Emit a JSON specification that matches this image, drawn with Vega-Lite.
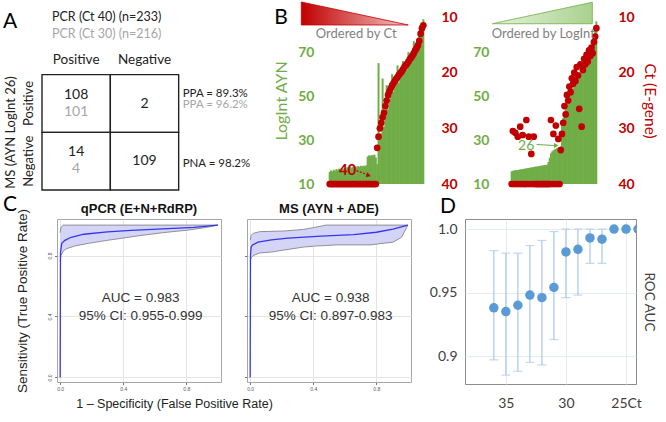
{
  "$schema": "https://vega.github.io/schema/vega-lite/v6.json",
  "background": "white",
  "padding": {"left": 2, "top": 0, "right": 4, "bottom": 2},
  "config": {"font": "Lato", "view": {"stroke": null}, "title": {"fontWeight": "normal", "color": "#000000"}},
  "datasets": {
    "cells": [{"c":"Positive","r":"Positive"},{"c":"Negative","r":"Positive"},{"c":"Positive","r":"Negative"},{"c":"Negative","r":"Negative"}],
    "counts": [{"c":"Positive","r":"Positive","n":"108","k":"top"},{"c":"Positive","r":"Positive","n":"101","k":"sub"},{"c":"Negative","r":"Positive","n":"2","k":"one"},{"c":"Positive","r":"Negative","n":"14","k":"top"},{"c":"Positive","r":"Negative","n":"4","k":"sub"},{"c":"Negative","r":"Negative","n":"109","k":"one"}],
    "stats": [{"c":"Stats","r":"Positive","t":"PPA = 89.3%","k":"top"},{"c":"Stats","r":"Positive","t":"PPA = 96.2%","k":"sub"},{"c":"Stats","r":"Negative","t":"PNA = 98.2%","k":"one"}],
    "ahead": [{"c":"Positive","r":"Header","t":"PCR (Ct 40) (n=233)","k":"h1"},{"c":"Positive","r":"Header","t":"PCR (Ct 30) (n=216)","k":"h2"},{"c":"Positive","r":"Header","t":"Positive","k":"col"},{"c":"Negative","r":"Header","t":"Negative","k":"col"},{"c":"Positive","r":"Header","t":"A","k":"letter"}],
    "b1": [
      {"r":1,"ct":40,"li":15.5},{"r":2,"ct":40,"li":16.2},{"r":3,"ct":40,"li":15.8},{"r":4,"ct":40,"li":16.5},{"r":5,"ct":40,"li":16.0},
      {"r":6,"ct":40,"li":16.8},{"r":7,"ct":40,"li":16.3},{"r":8,"ct":40,"li":17.0},{"r":9,"ct":40,"li":16.6},{"r":10,"ct":40,"li":17.2},
      {"r":11,"ct":40,"li":16.9},{"r":12,"ct":40,"li":17.4},{"r":13,"ct":40,"li":17.0},{"r":14,"ct":40,"li":17.6},{"r":15,"ct":40,"li":17.2},
      {"r":16,"ct":40,"li":17.8},{"r":17,"ct":40,"li":17.4},{"r":18,"ct":40,"li":17.9},{"r":19,"ct":40,"li":17.5},{"r":20,"ct":40,"li":18.0},
      {"r":21,"ct":40,"li":17.7},{"r":22,"ct":40,"li":18.2},{"r":23,"ct":40,"li":17.8},{"r":24,"ct":40,"li":18.3},{"r":25,"ct":40,"li":18.0},
      {"r":26,"ct":40,"li":18.4},{"r":27,"ct":40,"li":18.1},{"r":28,"ct":40,"li":18.5},{"r":29,"ct":40,"li":22.5},{"r":30,"ct":40,"li":23.0},
      {"r":31,"ct":40,"li":22.8},{"r":32,"ct":40,"li":23.2},{"r":33,"ct":40,"li":23.0},{"r":34,"ct":40,"li":23.4},{"r":35,"ct":40,"li":22.0},
      {"r":36,"ct":33.5,"li":19},{"r":37,"ct":31.5,"li":65},{"r":38,"ct":30.0,"li":30},{"r":39,"ct":29.0,"li":33},{"r":40,"ct":28.0,"li":58},
      {"r":41,"ct":27.2,"li":36},{"r":42,"ct":26.0,"li":40},{"r":43,"ct":25.0,"li":55},{"r":44,"ct":24.0,"li":44},{"r":45,"ct":23.4,"li":47},
      {"r":46,"ct":22.8,"li":50},{"r":47,"ct":22.3,"li":60},{"r":48,"ct":21.9,"li":52},{"r":49,"ct":21.5,"li":54},{"r":50,"ct":21.1,"li":55},
      {"r":51,"ct":20.8,"li":64},{"r":52,"ct":20.4,"li":56},{"r":53,"ct":20.1,"li":58},{"r":54,"ct":19.8,"li":60},{"r":55,"ct":19.4,"li":66},
      {"r":56,"ct":19.0,"li":61},{"r":57,"ct":18.7,"li":63},{"r":58,"ct":18.4,"li":62},{"r":59,"ct":18.0,"li":70},{"r":60,"ct":17.6,"li":65},
      {"r":61,"ct":17.3,"li":67},{"r":62,"ct":16.9,"li":68},{"r":63,"ct":16.5,"li":75},{"r":64,"ct":16.0,"li":70},{"r":65,"ct":15.6,"li":72},
      {"r":66,"ct":15.1,"li":74},{"r":67,"ct":14.3,"li":78},{"r":68,"ct":13.0,"li":80},{"r":69,"ct":12.0,"li":83},{"r":70,"ct":11.5,"li":85}
    ],
    "b2": [
      {"r":1,"ct":40,"li":15.8},{"r":2,"ct":30.5,"li":16.0},{"r":3,"ct":40,"li":16.1},{"r":4,"ct":30.8,"li":16.2},{"r":5,"ct":40,"li":16.3},
      {"r":6,"ct":31.5,"li":16.4},{"r":7,"ct":40,"li":16.5},{"r":8,"ct":29.7,"li":16.6},{"r":9,"ct":40,"li":16.7},{"r":10,"ct":31.2,"li":16.8},
      {"r":11,"ct":40,"li":16.9},{"r":12,"ct":40,"li":17.0},{"r":13,"ct":28.5,"li":17.1},{"r":14,"ct":40,"li":17.2},{"r":15,"ct":31.5,"li":17.3},
      {"r":16,"ct":40,"li":17.4},{"r":17,"ct":34.6,"li":17.5},{"r":18,"ct":40,"li":17.6},{"r":19,"ct":31.5,"li":17.7},{"r":20,"ct":40,"li":17.8},
      {"r":21,"ct":40,"li":17.9},{"r":22,"ct":40,"li":18.0},{"r":23,"ct":40,"li":18.1},{"r":24,"ct":40,"li":18.2},{"r":25,"ct":40,"li":18.3},
      {"r":26,"ct":40,"li":18.4},{"r":27,"ct":40,"li":18.5},{"r":28,"ct":40,"li":18.6},{"r":29,"ct":40,"li":18.7},{"r":30,"ct":40,"li":18.8},
      {"r":31,"ct":40,"li":20.0},{"r":32,"ct":40,"li":22.0},{"r":33,"ct":28.5,"li":24.0},{"r":34,"ct":40,"li":24.8},{"r":35,"ct":31.0,"li":25.3},
      {"r":36,"ct":40,"li":25.7},{"r":37,"ct":29.5,"li":26.0},{"r":38,"ct":40,"li":26.3},{"r":39,"ct":31.9,"li":26.6},{"r":40,"ct":40,"li":26.9},
      {"r":41,"ct":33.9,"li":27.2},{"r":42,"ct":31.0,"li":38},{"r":43,"ct":29.0,"li":40},{"r":44,"ct":26.0,"li":42},{"r":45,"ct":27.5,"li":44},
      {"r":46,"ct":24.0,"li":46},{"r":47,"ct":25.0,"li":47.5},{"r":48,"ct":22.5,"li":49},{"r":49,"ct":23.5,"li":50.5},{"r":50,"ct":21.0,"li":52},
      {"r":51,"ct":22.0,"li":53.5},{"r":52,"ct":20.0,"li":55},{"r":53,"ct":21.5,"li":56},{"r":54,"ct":19.0,"li":57},{"r":55,"ct":20.5,"li":58},
      {"r":56,"ct":26.5,"li":59},{"r":57,"ct":18.5,"li":60},{"r":58,"ct":29.7,"li":61},{"r":59,"ct":19.5,"li":62},{"r":60,"ct":17.5,"li":63},
      {"r":61,"ct":18.5,"li":64.5},{"r":62,"ct":16.8,"li":66},{"r":63,"ct":18.0,"li":67.5},{"r":64,"ct":16.0,"li":69},{"r":65,"ct":17.0,"li":71},
      {"r":66,"ct":15.5,"li":73},{"r":67,"ct":16.5,"li":75.5},{"r":68,"ct":14.5,"li":78},{"r":69,"ct":13.5,"li":81},{"r":70,"ct":12.0,"li":84}
    ],
    "d": [
      {"ct":36,"auc":0.938,"lo":0.897,"hi":0.983},{"ct":35,"auc":0.935,"lo":0.885,"hi":0.981},{"ct":34,"auc":0.940,"lo":0.888,"hi":0.981},
      {"ct":33,"auc":0.948,"lo":0.895,"hi":0.987},{"ct":32,"auc":0.946,"lo":0.893,"hi":0.991},{"ct":31,"auc":0.954,"lo":0.913,"hi":0.998},
      {"ct":30,"auc":0.982,"lo":0.946,"hi":1.0},{"ct":29,"auc":0.984,"lo":0.948,"hi":1.0},{"ct":28,"auc":0.993,"lo":0.973,"hi":1.0},
      {"ct":27,"auc":0.992,"lo":0.973,"hi":1.0},{"ct":26,"auc":1.0,"lo":1.0,"hi":1.0},{"ct":25,"auc":1.0,"lo":1.0,"hi":1.0},{"ct":24,"auc":1.0,"lo":1.0,"hi":1.0}
    ],
    "rocline": [
      {"m":"q","i":0,"x":0,"y":0},{"m":"q","i":1,"x":0.002,"y":0.82},{"m":"q","i":2,"x":0.01,"y":0.88},{"m":"q","i":3,"x":0.03,"y":0.90},
      {"m":"q","i":4,"x":0.07,"y":0.92},{"m":"q","i":5,"x":0.15,"y":0.94},{"m":"q","i":6,"x":0.3,"y":0.955},{"m":"q","i":7,"x":0.45,"y":0.965},
      {"m":"q","i":8,"x":0.65,"y":0.975},{"m":"q","i":9,"x":0.85,"y":0.985},{"m":"q","i":10,"x":1,"y":1},
      {"m":"ms","i":0,"x":0,"y":0},{"m":"ms","i":1,"x":0.002,"y":0.80},{"m":"ms","i":2,"x":0.006,"y":0.856},{"m":"ms","i":3,"x":0.015,"y":0.87},
      {"m":"ms","i":4,"x":0.05,"y":0.888},{"m":"ms","i":5,"x":0.135,"y":0.903},{"m":"ms","i":6,"x":0.24,"y":0.914},{"m":"ms","i":7,"x":0.45,"y":0.927},
      {"m":"ms","i":8,"x":0.656,"y":0.938},{"m":"ms","i":9,"x":0.8,"y":0.953},{"m":"ms","i":10,"x":0.906,"y":0.974},{"m":"ms","i":11,"x":1,"y":1}
    ],
    "rocband": [
      {"m":"q","x":0,"lo":0.76,"hi":0.95},{"m":"q","x":0.005,"lo":0.80,"hi":0.985},{"m":"q","x":0.02,"lo":0.83,"hi":1.0},{"m":"q","x":0.04,"lo":0.845,"hi":1.0},
      {"m":"q","x":0.1,"lo":0.865,"hi":1.0},{"m":"q","x":0.18,"lo":0.88,"hi":1.0},{"m":"q","x":0.3,"lo":0.90,"hi":1.0},{"m":"q","x":0.5,"lo":0.93,"hi":1.0},
      {"m":"q","x":0.65,"lo":0.95,"hi":1.0},{"m":"q","x":0.8,"lo":0.966,"hi":1.0},{"m":"q","x":0.93,"lo":0.985,"hi":1.0},{"m":"q","x":1,"lo":1.0,"hi":1.0},
      {"m":"ms","x":0,"lo":0.76,"hi":0.90},{"m":"ms","x":0.006,"lo":0.785,"hi":0.931},{"m":"ms","x":0.02,"lo":0.80,"hi":0.946},{"m":"ms","x":0.06,"lo":0.817,"hi":0.957},
      {"m":"ms","x":0.135,"lo":0.823,"hi":0.959},{"m":"ms","x":0.2,"lo":0.834,"hi":0.961},{"m":"ms","x":0.24,"lo":0.84,"hi":0.963},{"m":"ms","x":0.34,"lo":0.856,"hi":0.972},
      {"m":"ms","x":0.41,"lo":0.862,"hi":0.985},{"m":"ms","x":0.48,"lo":0.866,"hi":1.0},{"m":"ms","x":0.55,"lo":0.87,"hi":1.0},{"m":"ms","x":0.76,"lo":0.87,"hi":1.0},
      {"m":"ms","x":0.906,"lo":0.888,"hi":1.0},{"m":"ms","x":0.96,"lo":0.92,"hi":1.0},{"m":"ms","x":1,"lo":1.0,"hi":1.0}
    ],
    "auc": [{"m":"q","h":"qPCR (E+N+RdRP)","a":"AUC = 0.983","ci":"95% CI: 0.955-0.999"},{"m":"ms","h":"MS (AYN + ADE)","a":"AUC = 0.938","ci":"95% CI: 0.897-0.983"}]
  },
  "columns": 1,
  "align": "none",
  "spacing": 2,
  "concat": [
    {
      "hconcat": [
        {
          "width": 205, "height": 173,
          "layer": [
            {"data": {"name": "cells"}, "mark": {"type": "rect", "fill": "white", "stroke": "#222222", "strokeWidth": 1.4},
             "encoding": {
               "x": {"field": "c", "type": "nominal", "scale": {"domain": ["Positive","Negative","Stats"], "paddingInner": 0, "paddingOuter": 0}, "axis": null},
               "y": {"field": "r", "type": "nominal", "scale": {"domain": ["Header","Positive","Negative"], "paddingInner": 0, "paddingOuter": 0},
                     "axis": {"title": "MS (AYN LogInt 26)", "titleFontSize": 13, "titleFontWeight": "normal", "titleColor": "#222222", "titleY": 115, "titlePadding": 5,
                              "labelExpr": "datum.value == 'Header' ? '' : datum.value", "labelAngle": -90, "labelAlign": "center", "labelBaseline": "bottom",
                              "labelFontSize": 13, "labelColor": "#222222", "labelPadding": 7, "domain": false, "ticks": false, "grid": false}}
             }},
            {"data": {"name": "counts"}, "transform": [{"filter": "datum.k == 'top'"}], "mark": {"type": "text", "fontSize": 14, "color": "#222222", "dy": -9},
             "encoding": {"x": {"field": "c", "type": "nominal", "axis": null}, "y": {"field": "r", "type": "nominal"}, "text": {"field": "n"}}},
            {"data": {"name": "counts"}, "transform": [{"filter": "datum.k == 'sub'"}], "mark": {"type": "text", "fontSize": 14, "color": "#a6a6a6", "dy": 8},
             "encoding": {"x": {"field": "c", "type": "nominal", "axis": null}, "y": {"field": "r", "type": "nominal"}, "text": {"field": "n"}}},
            {"data": {"name": "counts"}, "transform": [{"filter": "datum.k == 'one'"}], "mark": {"type": "text", "fontSize": 14, "color": "#222222"},
             "encoding": {"x": {"field": "c", "type": "nominal", "axis": null}, "y": {"field": "r", "type": "nominal"}, "text": {"field": "n"}}},
            {"data": {"name": "stats"}, "transform": [{"filter": "datum.k == 'top'"}], "mark": {"type": "text", "fontSize": 11.5, "align": "left", "dx": 4, "dy": -10, "color": "#222222"},
             "encoding": {"x": {"field": "c", "type": "nominal", "bandPosition": 0, "axis": null}, "y": {"field": "r", "type": "nominal"}, "text": {"field": "t"}}},
            {"data": {"name": "stats"}, "transform": [{"filter": "datum.k == 'sub'"}], "mark": {"type": "text", "fontSize": 11.5, "align": "left", "dx": 4, "dy": 1.5, "color": "#a6a6a6"},
             "encoding": {"x": {"field": "c", "type": "nominal", "bandPosition": 0, "axis": null}, "y": {"field": "r", "type": "nominal"}, "text": {"field": "t"}}},
            {"data": {"name": "stats"}, "transform": [{"filter": "datum.k == 'one'"}], "mark": {"type": "text", "fontSize": 11.5, "align": "left", "dx": 4, "dy": 3, "color": "#222222"},
             "encoding": {"x": {"field": "c", "type": "nominal", "bandPosition": 0, "axis": null}, "y": {"field": "r", "type": "nominal"}, "text": {"field": "t"}}},
            {"data": {"name": "ahead"}, "transform": [{"filter": "datum.k == 'h1'"}], "mark": {"type": "text", "fontSize": 12.5, "align": "left", "dx": 10, "color": "#222222"},
             "encoding": {"x": {"field": "c", "type": "nominal", "bandPosition": 0, "axis": null}, "y": {"field": "r", "type": "nominal", "bandPosition": 0}, "text": {"field": "t"}}},
            {"data": {"name": "ahead"}, "transform": [{"filter": "datum.k == 'h2'"}], "mark": {"type": "text", "fontSize": 12.5, "align": "left", "dx": 10, "color": "#a6a6a6"},
             "encoding": {"x": {"field": "c", "type": "nominal", "bandPosition": 0, "axis": null}, "y": {"field": "r", "type": "nominal", "bandPosition": 0.3}, "text": {"field": "t"}}},
            {"data": {"name": "ahead"}, "transform": [{"filter": "datum.k == 'col'"}], "mark": {"type": "text", "fontSize": 13.5, "color": "#222222"},
             "encoding": {"x": {"field": "c", "type": "nominal", "axis": null}, "y": {"field": "r", "type": "nominal", "bandPosition": 0.745}, "text": {"field": "t"}}},
            {"data": {"name": "ahead"}, "transform": [{"filter": "datum.k == 'letter'"}], "mark": {"type": "text", "fontSize": 21, "color": "#000000", "dx": -32},
             "encoding": {"x": {"field": "c", "type": "nominal", "bandPosition": 0, "axis": null}, "y": {"field": "r", "type": "nominal", "bandPosition": 0.09}, "text": {"field": "t"}}}
          ]
        },
        {
          "width": 105, "height": 167,
          "layer": [
            {"data": {"name": "b1"}, "mark": {"type": "bar", "color": "#70ad47", "width": 2},
             "encoding": {
               "x": {"field": "r", "type": "quantitative", "scale": {"domain": [0.5, 70.5], "nice": false, "zero": false}, "axis": null},
               "y": {"field": "li", "type": "quantitative", "scale": {"domain": [10, 86], "nice": false, "zero": false},
                     "axis": {"orient": "left", "values": [10, 30, 50, 70], "title": "LogInt AYN", "titleColor": "#70ad47", "titleFontSize": 16, "titleFontWeight": "normal", "titlePadding": 8,
                              "labelColor": "#70ad47", "labelFontSize": 14, "labelFontWeight": "bold", "labelPadding": 10, "domain": false, "ticks": false, "grid": false}},
               "y2": {"datum": 10}
             }},
            {"layer": [
              {"data": {"name": "b1"}, "mark": {"type": "circle", "color": "#c00000", "size": 45, "opacity": 1},
               "encoding": {
                 "x": {"field": "r", "type": "quantitative", "axis": null},
                 "y": {"field": "ct", "type": "quantitative", "scale": {"domain": [10, 40], "reverse": true, "nice": false, "zero": false},
                       "axis": {"orient": "right", "values": [10, 20, 30, 40], "title": null, "labelColor": "#c00000", "labelFontSize": 14, "labelFontWeight": "bold", "labelPadding": 12, "domain": false, "ticks": false, "grid": false}}
               }},
              {"data": {"values": [{}]},
               "mark": {"type": "point", "shape": "M -1 -0.215 L -1 0.215 L 1 0.215 Z", "size": 11449, "filled": true, "opacity": 1,
                        "fill": {"gradient": "linear", "x1": 0, "y1": 0, "x2": 1, "y2": 0, "stops": [{"offset": 0, "color": "#c00000"}, {"offset": 1, "color": "#f5c4c4"}]},
                        "stroke": "#c00000", "strokeWidth": 0.8},
               "encoding": {"x": {"datum": 19.5, "axis": null}, "y": {"datum": 9.37}}},
              {"data": {"values": [{}]}, "mark": {"type": "text", "text": "Ordered by Ct", "fontSize": 13, "color": "#7f7f7f"},
               "encoding": {"x": {"datum": 20.5, "axis": null}, "y": {"datum": 13.05}}},
              {"data": {"values": [{}]}, "mark": {"type": "text", "text": "B", "fontSize": 21, "color": "#000000"},
               "encoding": {"x": {"datum": -34.8, "axis": null}, "y": {"datum": 10.1}}},
              {"data": {"values": [{}]}, "mark": {"type": "text", "text": "40", "fontSize": 15, "fontWeight": "bold", "color": "#c00000"},
               "encoding": {"x": {"datum": 14.2, "axis": null}, "y": {"datum": 37.4}}},
              {"data": {"values": [{}]}, "mark": {"type": "rule", "color": "#c00000", "strokeWidth": 1.2, "strokeDash": [2, 1.5]},
               "encoding": {"x": {"datum": 20.8, "axis": null}, "x2": {"datum": 28.6}, "y": {"datum": 37.6}, "y2": {"datum": 38.3}}},
              {"data": {"values": [{}]}, "mark": {"type": "point", "shape": "triangle", "angle": 111, "size": 25, "filled": true, "opacity": 1, "color": "#c00000"},
               "encoding": {"x": {"datum": 29.2, "axis": null}, "y": {"datum": 38.4}}}
            ]}
          ],
          "resolve": {"scale": {"y": "independent"}}
        },
        {
          "width": 96, "height": 167,
          "layer": [
            {"data": {"name": "b2"}, "mark": {"type": "bar", "color": "#70ad47", "width": 1.9},
             "encoding": {
               "x": {"field": "r", "type": "quantitative", "scale": {"domain": [0.5, 70.5], "nice": false, "zero": false}, "axis": null},
               "y": {"field": "li", "type": "quantitative", "scale": {"domain": [10, 86], "nice": false, "zero": false},
                     "axis": {"orient": "left", "values": [10, 30, 50, 70], "title": null,
                              "labelColor": "#70ad47", "labelFontSize": 14, "labelFontWeight": "bold", "labelPadding": 17, "domain": false, "ticks": false, "grid": false}},
               "y2": {"datum": 10}
             }},
            {"layer": [
              {"data": {"name": "b2"}, "mark": {"type": "circle", "color": "#c00000", "size": 45, "opacity": 1},
               "encoding": {
                 "x": {"field": "r", "type": "quantitative", "axis": null},
                 "y": {"field": "ct", "type": "quantitative", "scale": {"domain": [10, 40], "reverse": true, "nice": false, "zero": false},
                       "axis": {"orient": "right", "values": [10, 20, 30, 40], "title": "Ct (E-gene)", "titleColor": "#c00000", "titleFontSize": 15.5, "titleFontWeight": "normal", "titleAngle": 90, "titlePadding": 7,
                                "labelColor": "#c00000", "labelFontSize": 14, "labelFontWeight": "bold", "labelPadding": 16, "domain": false, "ticks": false, "grid": false}}
               }},
              {"data": {"values": [{}]},
               "mark": {"type": "point", "shape": "M -1 0.215 L 1 -0.215 L 1 0.215 Z", "size": 10000, "filled": true, "opacity": 1,
                        "fill": {"gradient": "linear", "x1": 0, "y1": 0, "x2": 1, "y2": 0, "stops": [{"offset": 0, "color": "#e6f2de"}, {"offset": 1, "color": "#a9d18e"}]},
                        "stroke": "#70ad47", "strokeWidth": 0.8},
               "encoding": {"x": {"datum": 26.0, "axis": null}, "y": {"datum": 9.28}}},
              {"data": {"values": [{}]}, "mark": {"type": "text", "text": "Ordered by LogInt", "fontSize": 13, "color": "#7f7f7f"},
               "encoding": {"x": {"datum": 26.8, "axis": null}, "y": {"datum": 13.05}}},
              {"data": {"values": [{}]}, "mark": {"type": "text", "text": "26", "fontSize": 14, "color": "#70ad47"},
               "encoding": {"x": {"datum": 12.9, "axis": null}, "y": {"datum": 33.2}}},
              {"data": {"values": [{}]}, "mark": {"type": "rule", "color": "#70ad47", "strokeWidth": 1},
               "encoding": {"x": {"datum": 21.4, "axis": null}, "x2": {"datum": 36.5}, "y": {"datum": 32.9}, "y2": {"datum": 33.1}}},
              {"data": {"values": [{}]}, "mark": {"type": "point", "shape": "triangle-right", "size": 28, "filled": true, "opacity": 1, "color": "#70ad47"},
               "encoding": {"x": {"datum": 37.3, "axis": null}, "y": {"datum": 33.1}}}
            ]}
          ],
          "resolve": {"scale": {"y": "independent"}}
        }
      ],
      "bounds": "flush",
      "spacing": 77
    },
    {
      "hconcat": [
        {
          "bounds": "flush",
          "spacing": 14,
          "hconcat": [
            {"width": 1, "height": 1, "data": {"values": [{}]}, "mark": {"type": "point", "opacity": 0}, "encoding": {}},
            {
              "bounds": "flush",
              "spacing": 26,
              "hconcat": [
                {
                  "width": 164, "height": 163,
                  "view": {"stroke": "#a6a6a6", "fill": "white"},
                  "layer": [
                    {"data": {"name": "rocband"}, "transform": [{"filter": "datum.m == 'q'"}], "mark": {"type": "area", "color": "#d4d4f7", "opacity": 1},
                     "encoding": {
                       "x": {"field": "x", "type": "quantitative", "scale": {"domain": [-0.02, 1.02], "nice": false, "zero": false},
                             "axis": {"values": [0,0.1,0.2,0.3,0.4,0.5,0.6,0.7,0.8,0.9,1], "format": ".1f", "labelExpr": "round(datum.value*10) % 2 == 0 ? datum.label : ''",
                                      "labelFont": "Liberation Sans", "labelFontSize": 5, "labelColor": "#555555", "labelPadding": 2, "tickSize": 2.5, "tickColor": "#777777",
                                      "tickOpacity": {"condition": {"test": "round(datum.value*10) % 2 == 1", "value": 0}, "value": 1},
                                      "domain": false, "grid": true, "gridColor": "#e4e4e4", "gridOpacity": {"condition": {"test": "round(datum.value*10) % 2 == 1", "value": 0.55}, "value": 1},
                                      "title": "1 – Specificity (False Positive Rate)", "titleFont": "Liberation Sans", "titleFontSize": 12.5, "titleFontWeight": "normal", "titleColor": "#222222",
                                      "titleX": 117, "titleAlign": "center", "titlePadding": 6}},
                       "y": {"field": "lo", "type": "quantitative", "scale": {"domain": [-0.03, 1.04], "nice": false, "zero": false},
                             "axis": {"values": [0,0.1,0.2,0.3,0.4,0.5,0.6,0.7,0.8,0.9,1], "format": ".1f", "labelExpr": "round(datum.value*10) % 2 == 0 ? datum.label : ''",
                                      "labelFont": "Liberation Sans", "labelFontSize": 5, "labelColor": "#555555", "labelAngle": -90, "labelPadding": 2, "tickSize": 2.5, "tickColor": "#777777",
                                      "tickOpacity": {"condition": {"test": "round(datum.value*10) % 2 == 1", "value": 0}, "value": 1},
                                      "domain": false, "grid": true, "gridColor": "#e4e4e4", "gridOpacity": {"condition": {"test": "round(datum.value*10) % 2 == 1", "value": 0.55}, "value": 1},
                                      "title": "Sensitivity (True Positive Rate)", "titleFont": "Liberation Sans", "titleFontSize": 13.5, "titleFontWeight": "normal", "titleColor": "#222222", "titlePadding": 18}},
                       "y2": {"field": "hi"}
                     }},
                    {"data": {"name": "rocband"}, "transform": [{"filter": "datum.m == 'q'"}], "mark": {"type": "line", "color": "#7a7a7a", "strokeWidth": 0.8},
                     "encoding": {"x": {"field": "x", "type": "quantitative"}, "y": {"field": "lo", "type": "quantitative"}}},
                    {"data": {"name": "rocband"}, "transform": [{"filter": "datum.m == 'q'"}], "mark": {"type": "line", "color": "#7a7a7a", "strokeWidth": 0.8},
                     "encoding": {"x": {"field": "x", "type": "quantitative"}, "y": {"field": "hi", "type": "quantitative"}}},
                    {"data": {"name": "rocline"}, "transform": [{"filter": "datum.m == 'q'"}], "mark": {"type": "line", "color": "#3535ee", "strokeWidth": 1.3},
                     "encoding": {"x": {"field": "x", "type": "quantitative"}, "y": {"field": "y", "type": "quantitative"}, "order": {"field": "i"}}},
                    {"data": {"name": "auc"}, "transform": [{"filter": "datum.m == 'q'"}], "mark": {"type": "text", "font": "Liberation Sans", "fontSize": 13.5, "color": "#333333"},
                     "encoding": {"x": {"datum": 0.51}, "y": {"datum": 0.52}, "text": {"field": "a"}}},
                    {"data": {"name": "auc"}, "transform": [{"filter": "datum.m == 'q'"}], "mark": {"type": "text", "font": "Liberation Sans", "fontSize": 13.5, "color": "#333333"},
                     "encoding": {"x": {"datum": 0.51}, "y": {"datum": 0.405}, "text": {"field": "ci"}}},
                    {"data": {"name": "auc"}, "transform": [{"filter": "datum.m == 'q'"}], "mark": {"type": "text", "font": "Liberation Sans", "fontSize": 13, "fontWeight": "bold", "color": "#111111"},
                     "encoding": {"x": {"datum": 0.5}, "y": {"datum": 1.106}, "text": {"field": "h"}}},
                    {"data": {"values": [{}]}, "mark": {"type": "text", "text": "C", "font": "Lato", "fontSize": 21, "color": "#000000"},
                     "encoding": {"x": {"datum": -0.318}, "y": {"datum": 1.129}}}
                  ]
                },
                {
                  "width": 164, "height": 163,
                  "view": {"stroke": "#a6a6a6", "fill": "white"},
                  "layer": [
                    {"data": {"name": "rocband"}, "transform": [{"filter": "datum.m == 'ms'"}], "mark": {"type": "area", "color": "#d4d4f7", "opacity": 1},
                     "encoding": {
                       "x": {"field": "x", "type": "quantitative", "scale": {"domain": [-0.02, 1.02], "nice": false, "zero": false},
                             "axis": {"values": [0,0.1,0.2,0.3,0.4,0.5,0.6,0.7,0.8,0.9,1], "format": ".1f", "labelExpr": "round(datum.value*10) % 2 == 0 ? datum.label : ''",
                                      "labelFont": "Liberation Sans", "labelFontSize": 5, "labelColor": "#555555", "labelPadding": 2, "tickSize": 2.5, "tickColor": "#777777",
                                      "tickOpacity": {"condition": {"test": "round(datum.value*10) % 2 == 1", "value": 0}, "value": 1},
                                      "domain": false, "grid": true, "gridColor": "#e4e4e4", "gridOpacity": {"condition": {"test": "round(datum.value*10) % 2 == 1", "value": 0.55}, "value": 1},
                                      "title": null}},
                       "y": {"field": "lo", "type": "quantitative", "scale": {"domain": [-0.03, 1.04], "nice": false, "zero": false},
                             "axis": {"values": [0,0.1,0.2,0.3,0.4,0.5,0.6,0.7,0.8,0.9,1], "labels": false, "tickSize": 2.5, "tickColor": "#777777",
                                      "tickOpacity": {"condition": {"test": "round(datum.value*10) % 2 == 1", "value": 0}, "value": 1},
                                      "domain": false, "grid": true, "gridColor": "#e4e4e4", "gridOpacity": {"condition": {"test": "round(datum.value*10) % 2 == 1", "value": 0.55}, "value": 1},
                                      "title": null}},
                       "y2": {"field": "hi"}
                     }},
                    {"data": {"name": "rocband"}, "transform": [{"filter": "datum.m == 'ms'"}], "mark": {"type": "line", "color": "#7a7a7a", "strokeWidth": 0.8},
                     "encoding": {"x": {"field": "x", "type": "quantitative"}, "y": {"field": "lo", "type": "quantitative"}}},
                    {"data": {"name": "rocband"}, "transform": [{"filter": "datum.m == 'ms'"}], "mark": {"type": "line", "color": "#7a7a7a", "strokeWidth": 0.8},
                     "encoding": {"x": {"field": "x", "type": "quantitative"}, "y": {"field": "hi", "type": "quantitative"}}},
                    {"data": {"name": "rocline"}, "transform": [{"filter": "datum.m == 'ms'"}], "mark": {"type": "line", "color": "#3535ee", "strokeWidth": 1.3},
                     "encoding": {"x": {"field": "x", "type": "quantitative"}, "y": {"field": "y", "type": "quantitative"}, "order": {"field": "i"}}},
                    {"data": {"name": "auc"}, "transform": [{"filter": "datum.m == 'ms'"}], "mark": {"type": "text", "font": "Liberation Sans", "fontSize": 13.5, "color": "#333333"},
                     "encoding": {"x": {"datum": 0.51}, "y": {"datum": 0.52}, "text": {"field": "a"}}},
                    {"data": {"name": "auc"}, "transform": [{"filter": "datum.m == 'ms'"}], "mark": {"type": "text", "font": "Liberation Sans", "fontSize": 13.5, "color": "#333333"},
                     "encoding": {"x": {"datum": 0.51}, "y": {"datum": 0.405}, "text": {"field": "ci"}}},
                    {"data": {"name": "auc"}, "transform": [{"filter": "datum.m == 'ms'"}], "mark": {"type": "text", "font": "Liberation Sans", "fontSize": 13, "fontWeight": "bold", "color": "#111111"},
                     "encoding": {"x": {"datum": 0.5}, "y": {"datum": 1.106}, "text": {"field": "h"}}}
                  ]
                }
              ]
            }
          ]
        },
        {
          "width": 171, "height": 165,
          "view": {"stroke": "#8c8c8c"},
          "layer": [
            {"data": {"name": "d"}, "mark": {"type": "rule", "color": "#a9c8e8", "strokeWidth": 1.2, "clip": true},
             "encoding": {
               "x": {"field": "ct", "type": "quantitative", "scale": {"domain": [24.17, 38.4], "reverse": true, "nice": false, "zero": false},
                     "axis": {"values": [37.5, 35, 32.5, 30, 27.5, 25], "labelExpr": "datum.value == 25 ? '25Ct' : ((datum.value == 35 || datum.value == 30) ? datum.label : '')",
                              "title": null, "grid": true, "gridColor": "#e4ecf6", "domain": false, "ticks": false, "labelFontSize": 14, "labelColor": "#404040", "labelPadding": 12}},
               "y": {"field": "lo", "type": "quantitative", "scale": {"domain": [0.878, 1.0079], "nice": false, "zero": false},
                     "axis": {"values": [0.9, 0.95, 1], "labelExpr": "datum.value > 0.99 ? '1.0' : (datum.value > 0.92 ? '0.95' : '0.9')",
                              "title": null, "grid": true, "gridColor": "#e4ecf6", "domain": false, "ticks": false, "labelFontSize": 14, "labelColor": "#404040", "labelPadding": 8}},
               "y2": {"field": "hi"}
             }},
            {"data": {"name": "d"}, "mark": {"type": "tick", "orient": "horizontal", "color": "#a9c8e8", "size": 9, "thickness": 1.2, "clip": true},
             "encoding": {"x": {"field": "ct", "type": "quantitative"}, "y": {"field": "lo", "type": "quantitative", "axis": null}}},
            {"data": {"name": "d"}, "mark": {"type": "tick", "orient": "horizontal", "color": "#a9c8e8", "size": 9, "thickness": 1.2, "clip": true},
             "encoding": {"x": {"field": "ct", "type": "quantitative"}, "y": {"field": "hi", "type": "quantitative", "axis": null}}},
            {"data": {"name": "d"}, "mark": {"type": "circle", "color": "#5b9bd5", "size": 90, "opacity": 1, "clip": true},
             "encoding": {"x": {"field": "ct", "type": "quantitative"},
                          "y": {"field": "auc", "type": "quantitative", "axis": {"orient": "right", "labels": false, "ticks": false, "domain": false, "grid": false,
                                "title": "ROC AUC", "titleAngle": 90, "titleFontSize": 13.5, "titleFontWeight": "normal", "titleColor": "#404040", "titlePadding": 5}}}},
            {"data": {"values": [{}]}, "mark": {"type": "text", "text": "D", "fontSize": 21, "color": "#000000"},
             "encoding": {"x": {"datum": 39.81}, "y": {"datum": 1.0173, "axis": null}}}
          ],
          "resolve": {"axis": {"y": "independent"}}
        }
      ],
      "spacing": 16
    }
  ]
}
